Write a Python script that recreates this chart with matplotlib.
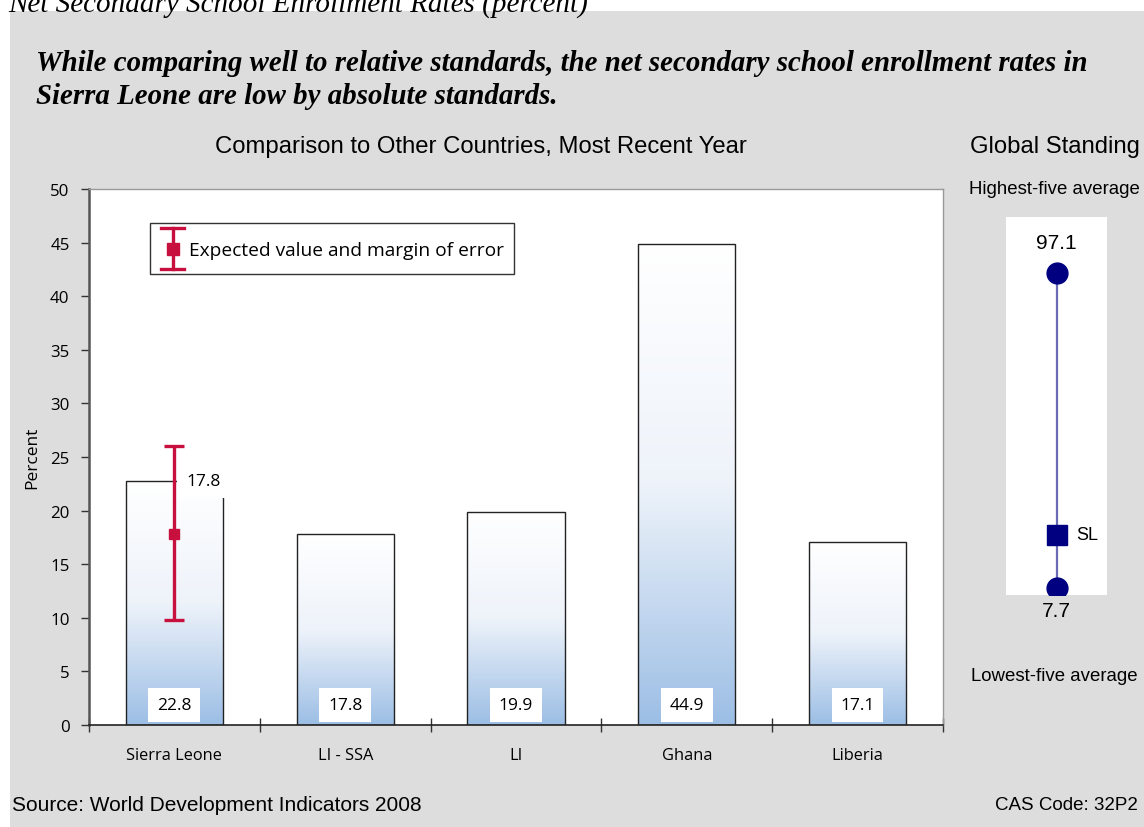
import numpy as np
import matplotlib
matplotlib.use("Agg")
import matplotlib.pyplot as plt
from matplotlib.patches import Rectangle
from matplotlib.lines import Line2D
from matplotlib.colors import LinearSegmentedColormap
from matplotlib.legend_handler import HandlerBase
from matplotlib.container import ErrorbarContainer

# ---- data ----
categories = ["Sierra Leone", "LI - SSA", "LI", "Ghana", "Liberia"]
values = [22.8, 17.8, 19.9, 44.9, 17.1]
expected_value = 17.8
margin_low = 9.8
margin_high = 26.0
y_ticks = [0, 5, 10, 15, 20, 25, 30, 35, 40, 45, 50]

standing_high = 97.1
standing_low = 7.7
standing_sl = 22.8

W, H = 1144, 828
fig = plt.figure(figsize=(W / 100, H / 100), dpi=100)
fig.patch.set_facecolor("white")

# grey panel behind everything
fig.patches.append(Rectangle((10 / W, 0), 1 - 10 / W, 1 - 12 / H, transform=fig.transFigure,
                             facecolor="#DDDDDD", edgecolor="none", zorder=-10))

serif = "Liberation Serif"
sans = "Liberation Sans"
gill = "Open Sans"
crimson = "#C8103E"
navy = "#000080"

fig.text(8 / W, 1 - 12 / H, "Net Secondary School Enrollment Rates (percent)",
         family=serif, style="italic", fontsize=21, va="baseline", ha="left")
fig.text(36 / W, 1 - 80 / H,
         "While comparing well to relative standards, the net secondary school enrollment rates in\n"
         "Sierra Leone are low by absolute standards.",
         family=serif, style="italic", weight="bold", fontsize=20.8, va="center", ha="left",
         linespacing=1.25)

fig.text(481 / W, 1 - 147 / H, "Comparison to Other Countries, Most Recent Year",
         family=sans, fontsize=17.2, ha="center", va="center")
fig.text(1055 / W, 1 - 147 / H, "Global Standing", family=sans, fontsize=17.2, ha="center", va="center")
fig.text(1054 / W, 1 - 190 / H, "Highest-five average", family=sans, fontsize=13.4, ha="center", va="center")
fig.text(1054 / W, 1 - 677 / H, "Lowest-five average", family=sans, fontsize=13.4, ha="center", va="center")
fig.text(12 / W, 1 - 806 / H, "Source: World Development Indicators 2008", family=sans, fontsize=15,
         ha="left", va="center")
fig.text(1138 / W, 1 - 806 / H, "CAS Code: 32P2", family=sans, fontsize=13.5, ha="right", va="center")

# ---- main bar chart ----
ax = fig.add_axes([89 / W, 1 - 726 / H, (943 - 89) / W, (726 - 190) / H])
ax.set_facecolor("white")

cmap = LinearSegmentedColormap.from_list("barfill", ["#FFFFFF", "#EEF3FA", "#9CBEE5"])
grad = np.linspace(0, 1, 256).reshape(-1, 1)
bar_w = 0.57
x = np.arange(len(categories))
bars = ax.bar(x, values, width=bar_w, facecolor="none", edgecolor="#222222", linewidth=1.0, zorder=3)
for b in bars:
    x0, w, h = b.get_x(), b.get_width(), b.get_height()
    im = ax.imshow(grad, cmap=cmap, aspect="auto", extent=(x0, x0 + w, 0, h), origin="upper",
                   zorder=2, interpolation="bicubic")
    im.set_clip_path(b)
ax.set_xlim(-0.5, len(categories) - 0.5)
ax.set_ylim(0, 50)

# value labels inside the bars
for xi, v in zip(x, values):
    ax.annotate(f"{v:.1f}", xy=(xi, 0), xytext=(0, 14.5), textcoords="offset points",
                ha="center", va="center", family=gill, fontsize=12.5, zorder=5,
                bbox=dict(boxstyle="square,pad=0.5", facecolor="white", edgecolor="none"))

# expected value with margin of error
eb = ax.errorbar([0], [expected_value], yerr=[[expected_value - margin_low], [margin_high - expected_value]],
                 fmt="s", color=crimson, ecolor=crimson, markersize=7, elinewidth=2.4, capsize=7.5,
                 capthick=2.4, zorder=6, label="Expected value and margin of error")
ax.annotate(f"{expected_value:.1f}", xy=(0, values[0]), xytext=(8.5, 0), textcoords="offset points",
            ha="left", va="center", family=gill, fontsize=12.5, zorder=5,
            bbox=dict(boxstyle="square,pad=0.55", facecolor="white", edgecolor="none"))


class ErrorKey(HandlerBase):
    """Legend key: a tall error bar with caps and a square centre marker."""

    def create_artists(self, legend, orig_handle, xdescent, ydescent, width, height, fontsize, trans):
        cx = 0.5 * width - xdescent
        cy = 0.5 * height - ydescent
        half, cap = 14.5, 8.5
        stem = Line2D([cx, cx], [cy - half, cy + half], color=crimson, lw=2.4, transform=trans)
        caps = [Line2D([cx - cap, cx + cap], [yy, yy], color=crimson, lw=2.4, transform=trans)
                for yy in (cy - half, cy + half)]
        mark = Line2D([cx], [cy], marker="s", markersize=9, color=crimson, linestyle="none",
                      transform=trans)
        return [stem, *caps, mark]


leg = ax.legend(loc="upper left", bbox_to_anchor=((150 - 89) / 854, (726 - 224) / 536),
                borderaxespad=0, frameon=True, fancybox=False, prop=dict(family=gill, size=13.8),
                handlelength=1.35, handleheight=2.2, handletextpad=0.2, borderpad=0.5,
                handler_map={ErrorbarContainer: ErrorKey()})
leg.get_frame().set_edgecolor("black")
leg.get_frame().set_linewidth(1.0)
leg.set_zorder(7)

ax.set_yticks(y_ticks)
ax.set_yticklabels([str(t) for t in y_ticks], family=gill, fontsize=12.2)
ax.tick_params(axis="y", direction="out", length=6, width=1, color="#333333", pad=8)
ax.set_xticks(np.arange(-0.5, len(categories), 1.0))
ax.set_xticklabels([])
ax.set_xticks(x, minor=True)
ax.set_xticklabels(categories, minor=True, family=gill, fontsize=11.8)
ax.tick_params(axis="x", which="major", direction="inout", length=10, width=1, color="#333333")
ax.tick_params(axis="x", which="minor", length=0, pad=16)
ax.set_ylabel("Percent", family=gill, fontsize=12.5, labelpad=7)

ax.spines["left"].set_color("#555555")
ax.spines["left"].set_linewidth(1.8)
ax.spines["bottom"].set_color("#222222")
ax.spines["bottom"].set_linewidth(1.2)
for s in ("top", "right"):
    ax.spines[s].set_color("#999999")
    ax.spines[s].set_linewidth(1.0)

# ---- global standing panel ----
ax2 = fig.add_axes([1006 / W, 1 - 596 / H, (1107 - 1006) / W, (596 - 218) / H])
ax2.set_facecolor("white")
ax2.set_xlim(0, 1)
ax2.set_ylim(5.71, 113.0)
for s in ax2.spines.values():
    s.set_visible(False)
ax2.set_xticks([])
ax2.set_yticks([])
ax2.plot([0.5, 0.5], [standing_low, standing_high], color="#6B6BB5", linewidth=1.6, zorder=1)
ax2.plot([0.5, 0.5], [standing_low, standing_high], "o", color=navy, markersize=15, zorder=2)
ax2.plot([0.5], [standing_sl], "s", color=navy, markersize=15, zorder=3)
ax2.annotate(f"{standing_high:.1f}", xy=(0.5, standing_high), xytext=(0, 22), textcoords="offset points",
             ha="center", va="center", family=sans, fontsize=15)
ax2.annotate(f"{standing_low:.1f}", xy=(0.5, standing_low), xytext=(0, -16), textcoords="offset points",
             ha="center", va="center", family=sans, fontsize=15, annotation_clip=False)
ax2.annotate("SL", xy=(0.5, standing_sl), xytext=(14, 0), textcoords="offset points",
             ha="left", va="center", family=sans, fontsize=13)

fig.savefig("out.png", dpi=100, facecolor=fig.get_facecolor())
